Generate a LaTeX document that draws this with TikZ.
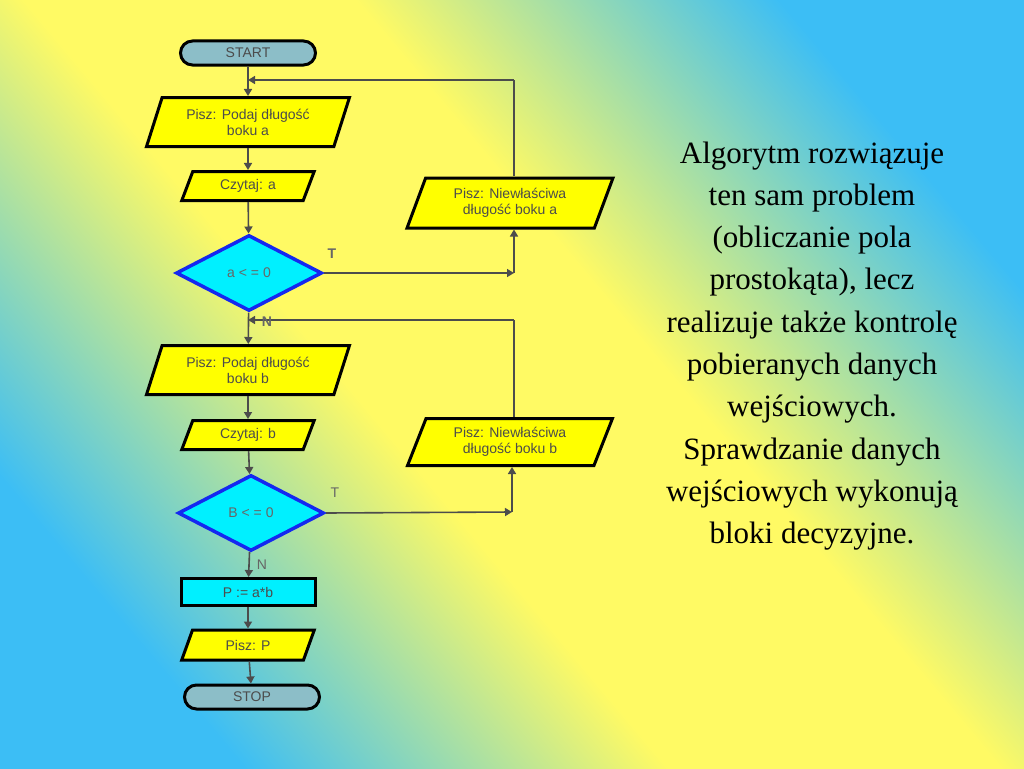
\documentclass[tikz,border=0pt]{standalone}
\usepackage{fontspec}
\setmainfont{Liberation Serif}
\newfontfamily\boxfont{Liberation Sans}
\usetikzlibrary{shapes.geometric,shapes.misc,arrows.meta}
\definecolor{bgblue}{RGB}{60,190,245}
\definecolor{bgyel}{RGB}{255,250,100}
\definecolor{boxyel}{RGB}{255,255,0}
\definecolor{termfill}{RGB}{140,190,200}
\definecolor{dcyan}{RGB}{0,240,255}
\definecolor{dblue}{RGB}{20,40,240}
\pgfdeclarehorizontalshading{bgsh}{100bp}{color(0bp)=(bgblue); color(25bp)=(bgblue); color(43bp)=(bgyel); color(57bp)=(bgyel); color(75bp)=(bgblue); color(100bp)=(bgblue)}
\begin{document}
\begin{tikzpicture}[x=1pt,y=-1pt,
  base/.style={draw=black,line width=3pt,font=\boxfont\fontsize{14}{16}\selectfont,text=black!70,align=center,inner sep=0pt},
  io/.style={base,fill=boxyel,trapezium,trapezium left angle=67,trapezium right angle=113,trapezium stretches=true},
  term/.style={base,fill=termfill,rounded rectangle,minimum width=135pt,minimum height=24pt},
  proc/.style={base,fill=dcyan,rectangle,minimum width=134pt,minimum height=27pt},
  dec/.style={diamond,draw=dblue,line width=3.5pt,fill=dcyan,font=\boxfont\fontsize{14}{16}\selectfont,text=black!60,minimum width=146pt,minimum height=76pt,inner sep=0pt,aspect=2},
  arr/.style={draw=black!70,line width=1.6pt,-{Triangle[length=7pt,width=8pt]}},
  ln/.style={draw=black!70,line width=1.6pt},
  lab/.style={font=\boxfont\bfseries\fontsize{14}{16}\selectfont,text=black!60}]
\useasboundingbox (0,0) rectangle (1024,768);
\shade[shading=bgsh,shading angle=40] (0,0) rectangle (1024,768);
\node[term] (start) at (248,53) {START};
\node[io,minimum width=203pt,minimum height=49pt] (pa) at (248,122) {Pisz: Podaj długość\\boku a};
\node[io,minimum width=133pt,minimum height=29pt] (ca) at (248,186) {Czytaj: a};
\node[dec] (da) at (249,273) {a < = 0};
\node[io,minimum width=206pt,minimum height=50pt] (na) at (510,203) {Pisz: Niewłaściwa\\długość boku a};
\node[io,minimum width=203pt,minimum height=49pt] (pb) at (248,370) {Pisz: Podaj długość\\boku b};
\node[io,minimum width=133pt,minimum height=29pt] (cb) at (248,435) {Czytaj: b};
\node[dec] (db) at (251,513) {B < = 0};
\node[io,minimum width=205pt,minimum height=47pt] (nb) at (510,442) {Pisz: Niewłaściwa\\długość boku b};
\node[proc] (p) at (248,592) {P := a*b};
\node[io,minimum width=133pt,minimum height=30pt] (wp) at (248,645) {Pisz: P};
\node[term] (stop) at (252,697) {STOP};
\coordinate (ja) at (248,80);
\coordinate (jb) at (248,320);
\coordinate (ta) at (514,273);
\coordinate (tb) at (512,512);
\coordinate (ua) at (514,80);
\coordinate (ub) at (514,320);
\draw[arr] (start) -- (pa);
\draw[arr] (pa) -- (ca);
\draw[arr] (ca) -- (da);
\draw[arr] (da) -- (pb);
\draw[arr] (pb) -- (cb);
\draw[arr] (cb) -- (db);
\draw[arr] (db) -- (p);
\draw[arr] (p) -- (wp);
\draw[arr] (wp) -- (stop);
\draw[arr] (da.east) -- (ta);
\draw[arr] (ta) -- (ta|-na.south);
\draw[ln] (ta|-na.north) -- (ua);
\draw[arr] (ua) -- (ja);
\draw[arr] (db.east) -- (tb);
\draw[arr] (tb) -- (tb|-nb.south);
\draw[ln] (ub|-nb.north) -- (ub);
\draw[arr] (ub) -- (jb);
\node[lab] (t1) at (332,254) {T};
\node[lab] (n1) at (267,322) {N};
\node[lab,font=\boxfont\fontsize{14}{16}\selectfont] (t2) at (335,493) {T};
\node[lab,font=\boxfont\fontsize{14}{16}\selectfont] (n2) at (262,565) {N};
\node[font=\fontsize{31}{42.3}\selectfont,align=center,anchor=north] (txt) at (812,138) {Algorytm rozwiązuje\\ten sam problem\\(obliczanie pola\\prostokąta), lecz\\realizuje także kontrolę\\pobieranych danych\\wejściowych.\\Sprawdzanie danych\\wejściowych wykonują\\bloki decyzyjne.};
\end{tikzpicture}
\end{document}
